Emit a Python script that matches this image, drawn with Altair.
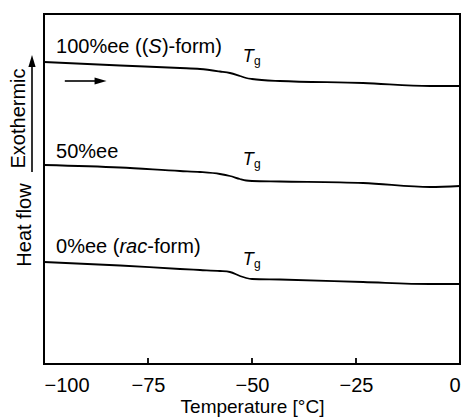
import altair as alt
import pandas as pd

FONT = "Liberation Sans"

# ---- data (temperature in °C, heat flow in arbitrary units) ----
temp = [-100, -81.7, -67.3, -62.5, -57.7, -55.3, -52.9, -51.4, -50.0, -43.3, -23.3, -7.2, 0]
hf_100 = [302, 298.5, 296, 295, 292.5, 291, 288, 286, 285, 283, 281, 278, 278]
hf_50 = [199, 196.5, 193, 192, 190, 188, 185, 183.5, 183, 182.5, 181, 177, 178]
hf_0 = [102, 98.5, 95, 94, 93, 92, 88, 86, 85, 84.5, 82, 80, 80]
series = ["100%ee", "50%ee", "0%ee"]
x_ticks = [-100, -75, -50, -25, 0]

rows = []
for name, vals in zip(series, [hf_100, hf_50, hf_0]):
    for t, v in zip(temp, vals):
        rows.append({"series": name, "T": t, "hf": v})
df = pd.DataFrame(rows)

xs = alt.Scale(domain=[-100, 0], nice=False, zero=False)
ys = alt.Scale(domain=[0, 350], nice=False, zero=False)

W, H = 416, 350

lines = alt.Chart(df).mark_line(color="black", strokeWidth=1.8, interpolate="monotone").encode(
    x=alt.X("T:Q", scale=xs,
            axis=alt.Axis(values=x_ticks, format="d", ticks=False, tickSize=0, domain=False, grid=False,
                          labelFontSize=20, labelFont=FONT, labelColor="black", labelPadding=11,
                          title="Temperature [°C]", titleFontSize=19, titleFont=FONT,
                          titleFontWeight="normal", titleColor="black", titlePadding=2)),
    y=alt.Y("hf:Q", scale=ys, axis=None),
    detail="series:N",
)

ticks = alt.Chart(pd.DataFrame({"T": x_ticks})).mark_rule(color="black", strokeWidth=1.8).encode(
    x=alt.X("T:Q", scale=xs),
    y=alt.value(H),
    y2=alt.value(H - 6),
)

# series labels (pieces so that italic parts can be mixed in)
lab_T = -97.1
def txt(text, t, v, dx=0, style="normal", size=20, align="left"):
    return alt.Chart(pd.DataFrame({"T": [t], "v": [v]})).mark_text(
        text=text, font=FONT, fontSize=size, fontStyle=style, align=align,
        baseline="alphabetic", dx=dx, color="black"
    ).encode(x=alt.X("T:Q", scale=xs), y=alt.Y("v:Q", scale=ys))

labels = [
    txt("100%ee ((", lab_T, 311),
    txt("S", lab_T, 311, dx=92.3, style="italic"),
    txt(")-form)", lab_T, 311, dx=92.3 + 13.6),
    txt("50%ee", lab_T, 206),
    txt("0%ee (", lab_T, 111),
    txt("rac", lab_T, 111, dx=63.4, style="italic"),
    txt("-form)", lab_T, 111, dx=63.4 + 27.8),
]

tg = []
for tb, gb in [(302, 299), (199, 196), (99, 96)]:
    tg.append(txt("T", -52.2, tb, style="italic", size=18))
    tg.append(txt("g", -49.5, gb, size=12))

# horizontal arrow inside the plot
arrow_line = alt.Chart(pd.DataFrame({"T": [-95.0], "T2": [-87.5], "v": [283]})).mark_rule(
    color="black", strokeWidth=1.6).encode(
    x=alt.X("T:Q", scale=xs), x2="T2:Q", y=alt.Y("v:Q", scale=ys))
arrow_head = alt.Chart(pd.DataFrame({"T": [-86.4], "v": [283]})).mark_point(
    shape="M1,0L-1,0.6L-1,-0.6Z", size=144, filled=True, fill="black", color="black",
    opacity=1, fillOpacity=1).encode(
    x=alt.X("T:Q", scale=xs), y=alt.Y("v:Q", scale=ys))

# y-axis title with "Exothermic" arrow
ytitle = [
    alt.Chart(pd.DataFrame({"a": [0]})).mark_text(
        text="Exothermic", font=FONT, fontSize=20, angle=270, align="center",
        baseline="alphabetic", color="black").encode(x=alt.value(-19), y=alt.value(104.5)),
    alt.Chart(pd.DataFrame({"a": [0]})).mark_text(
        text="Heat flow", font=FONT, fontSize=20, angle=270, align="center",
        baseline="alphabetic", color="black").encode(x=alt.value(-13), y=alt.value(211)),
    alt.Chart(pd.DataFrame({"a": [0]})).mark_rule(color="black", strokeWidth=1.6).encode(
        x=alt.value(-12), y=alt.value(158), y2=alt.value(50)),
    alt.Chart(pd.DataFrame({"a": [0]})).mark_point(
        shape="M0,-1L0.6,1L-0.6,1Z", size=144, filled=True, fill="black", color="black",
        opacity=1, fillOpacity=1).encode(
        x=alt.value(-12), y=alt.value(47)),
]

chart = alt.layer(lines, ticks, *labels, *tg, arrow_line, arrow_head, *ytitle).properties(
    width=W, height=H,
    autosize=alt.AutoSizeParams(type="none"),
    padding={"left": 44, "top": 14, "right": 7, "bottom": 55},
    background="white",
).configure_view(stroke="black", strokeWidth=2)

chart.save("out.html", embed_options={"renderer": "svg", "actions": False})
